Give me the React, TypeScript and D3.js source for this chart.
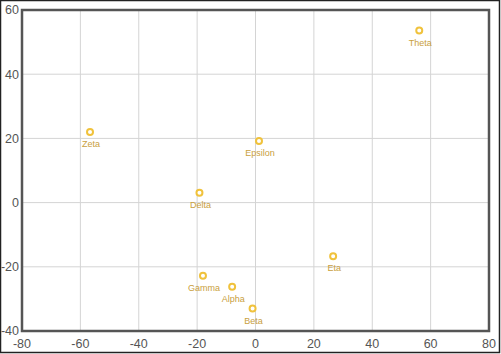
import React, { useRef, useEffect } from "react";
import * as d3 from "d3";

const names = ["Alpha", "Beta", "Gamma", "Delta", "Epsilon", "Zeta", "Eta", "Theta"];
const xValues = [-8.0, -1.0, -18.0, -19.2, 1.2, -56.7, 26.6, 56.1];
const yValues = [-26.2, -33.0, -22.8, 3.1, 19.2, 22.0, -16.7, 53.6];
const xTicks = [-80, -60, -40, -20, 0, 20, 40, 60, 80];
const yTicks = [-40, -20, 0, 20, 40, 60];

const App = () => {
  const svgRef = useRef<SVGSVGElement>(null);

  useEffect(() => {
    const width = 501;
    const height = 354;
    const margin = { top: 10, right: 12, bottom: 23, left: 22 };
    const svg = d3.select(svgRef.current);
    svg.selectAll("*").remove();

    const x = d3.scaleLinear().domain([-80, 80]).range([margin.left, width - margin.right]);
    const y = d3.scaleLinear().domain([-40, 60]).range([height - margin.bottom, margin.top]);

    // outer frame
    svg
      .append("rect")
      .attr("x", 0.5)
      .attr("y", 0.5)
      .attr("width", width - 2)
      .attr("height", height - 2)
      .attr("fill", "white")
      .attr("stroke", "#222")
      .attr("stroke-width", 1.5);

    // grid
    const grid = svg.append("g");
    grid
      .selectAll(".vx")
      .data(xTicks)
      .enter()
      .append("line")
      .attr("x1", (d) => x(d))
      .attr("x2", (d) => x(d))
      .attr("y1", y(60))
      .attr("y2", y(-40))
      .attr("stroke", "#d4d4d4")
      .attr("stroke-width", 1);
    grid
      .selectAll(".hy")
      .data(yTicks)
      .enter()
      .append("line")
      .attr("x1", x(-80))
      .attr("x2", x(80))
      .attr("y1", (d) => y(d))
      .attr("y2", (d) => y(d))
      .attr("stroke", "#d4d4d4")
      .attr("stroke-width", 1);

    // plot box
    svg
      .append("rect")
      .attr("x", x(-80))
      .attr("y", y(60))
      .attr("width", x(80) - x(-80))
      .attr("height", y(-40) - y(60))
      .attr("fill", "none")
      .attr("stroke", "#555")
      .attr("stroke-width", 2.5);

    // tick labels
    svg
      .selectAll(".xt")
      .data(xTicks)
      .enter()
      .append("text")
      .attr("x", (d) => x(d))
      .attr("y", height - 6)
      .attr("text-anchor", "middle")
      .style("font-family", "Liberation Sans, Arial, sans-serif")
      .style("font-size", "12.5px")
      .attr("fill", "#555")
      .text((d) => d);
    svg
      .selectAll(".yt")
      .data(yTicks)
      .enter()
      .append("text")
      .attr("x", 19)
      .attr("y", (d) => y(d))
      .attr("dy", "0.35em")
      .attr("text-anchor", "end")
      .style("font-family", "Liberation Sans, Arial, sans-serif")
      .style("font-size", "12.5px")
      .attr("fill", "#555")
      .text((d) => d);

    // points
    const pts = names.map((n, i) => ({ name: n, x: xValues[i], y: yValues[i] }));
    const g = svg.append("g");
    g.selectAll("circle")
      .data(pts)
      .enter()
      .append("circle")
      .attr("cx", (d) => x(d.x))
      .attr("cy", (d) => y(d.y))
      .attr("r", 3)
      .attr("fill", "white")
      .attr("stroke", "#f0c23c")
      .attr("stroke-width", 2);
    g.selectAll("text")
      .data(pts)
      .enter()
      .append("text")
      .attr("x", (d) => x(d.x) + 1)
      .attr("y", (d) => y(d.y) + 15)
      .attr("text-anchor", "middle")
      .style("font-family", "Liberation Sans, Arial, sans-serif")
      .style("font-size", "9px")
      .attr("fill", "#c9a040")
      .text((d) => d.name);
  }, []);

  return (
    <div style={{ position: "absolute", left: 0, top: 0 }}>
      <svg ref={svgRef} width={501} height={354} style={{ display: "block" }}></svg>
    </div>
  );
};

export default App;
